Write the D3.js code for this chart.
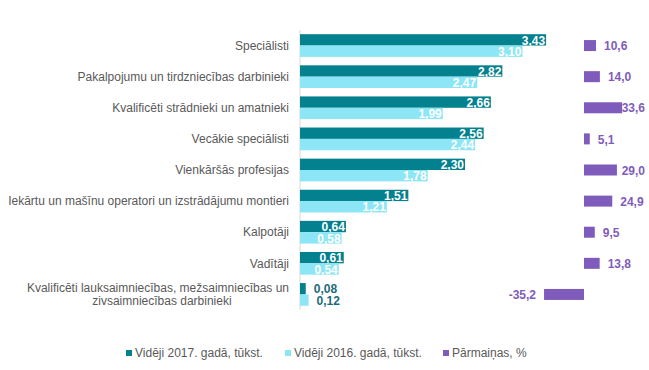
<!DOCTYPE html>
<html>
<head>
<meta charset="utf-8">
<script src="https://cdn.jsdelivr.net/npm/d3@7"></script>
<style>
  body { margin: 0; background: #fff; }
  text { font-family: "Liberation Sans", Arial, sans-serif; }
</style>
</head>
<body>
<div id="chart"></div>
<script>
// data
const categories = [
  "Speciālisti",
  "Pakalpojumu un tirdzniecības darbinieki",
  "Kvalificēti strādnieki un amatnieki",
  "Vecākie speciālisti",
  "Vienkāršās profesijas",
  "Iekārtu un mašīnu operatori un izstrādājumu montieri",
  "Kalpotāji",
  "Vadītāji",
  "Kvalificēti lauksaimniecības, mežsaimniecības un\nzivsaimniecības darbinieki"
];
const avg2017 = [3.43, 2.82, 2.66, 2.56, 2.30, 1.51, 0.64, 0.61, 0.08];
const avg2016 = [3.10, 2.47, 1.99, 2.44, 1.78, 1.21, 0.58, 0.54, 0.12];
const change = [10.6, 14.0, 33.6, 5.1, 29.0, 24.9, 9.5, 13.8, -35.2];
const seriesNames = ["Vidēji 2017. gadā, tūkst.", "Vidēji 2016. gadā, tūkst.", "Pārmaiņas, %"];

const colors = ["#03818f", "#8de6f5", "#7f5cbb"];
const W = 649, H = 370;
const fmt2 = d => d.toFixed(2).replace(".", ",");
const fmt1 = d => d.toFixed(1).replace(".", ",");

const svg = d3.select("#chart").append("svg")
  .attr("width", W).attr("height", H);

let y = d3.scaleBand()
  .domain(d3.range(categories.length))
  .range([30, 310])
  .paddingInner(0.27)
  .paddingOuter(0.135);

let ySub = d3.scaleBand()
  .domain([0, 1])
  .range([0, y.bandwidth()]);

let x = d3.scaleLinear().domain([0, 4]).range([300, 587]);
let xc = d3.scaleLinear().domain([-40, 40]).range([538.6, 629.4]);

// category axis line
svg.append("line")
  .attr("x1", x(0)).attr("x2", x(0))
  .attr("y1", 30).attr("y2", 310)
  .attr("stroke", "#d9d9d9").attr("stroke-width", 1);

// category labels
categories.forEach((c, i) => {
  let lines = c.split("\n");
  let cy = y(i) + y.bandwidth() / 2;
  let lh = 12.5;
  let t = svg.append("text")
    .attr("font-size", 12)
    .attr("fill", "#595959");
  if (lines.length === 1) {
    t.attr("x", 289).attr("y", cy).attr("dy", "0.35em")
      .attr("text-anchor", "end").text(c);
  } else {
    let first = t.append("tspan")
      .attr("x", 289).attr("y", cy - lh / 2).attr("dy", "0.35em")
      .attr("text-anchor", "end").text(lines[0]);
    let w1 = first.node().getComputedTextLength();
    t.append("tspan")
      .attr("x", 289 - w1 / 2 + 4).attr("y", cy + lh / 2).attr("dy", "0.35em")
      .attr("text-anchor", "middle").text(lines[1]);
  }
});

// two year series
const pairs = [avg2017, avg2016];
pairs.forEach((vals, s) => {
  let g = svg.append("g");
  g.selectAll("rect").data(vals).join("rect")
    .attr("x", x(0))
    .attr("y", (d, i) => y(i) + ySub(s))
    .attr("width", d => x(d) - x(0))
    .attr("height", ySub.bandwidth())
    .attr("fill", colors[s]);

  g.selectAll("text").data(vals).join("text")
    .attr("font-size", 12)
    .attr("font-weight", "bold")
    .attr("dy", "0.35em")
    .attr("y", (d, i) => y(i) + ySub(s) + ySub.bandwidth() / 2 + 0.5)
    .attr("x", d => x(d) - x(0) > 30 ? x(d) - 1 : x(d) + 8)
    .attr("text-anchor", d => x(d) - x(0) > 30 ? "end" : "start")
    .attr("fill", d => x(d) - x(0) > 30 ? "#fff" : "#1b6c7a")
    .text(fmt2);
});

// change series
let gc = svg.append("g");
gc.selectAll("rect").data(change).join("rect")
  .attr("x", d => Math.min(xc(0), xc(d)))
  .attr("y", (d, i) => y(i) + y.bandwidth() / 2 - 5.5)
  .attr("width", d => Math.abs(xc(d) - xc(0)))
  .attr("height", 11)
  .attr("fill", colors[2]);

gc.selectAll("text").data(change).join("text")
  .attr("font-size", 12)
  .attr("font-weight", "bold")
  .attr("fill", colors[2])
  .attr("dy", "0.35em")
  .attr("y", (d, i) => y(i) + y.bandwidth() / 2 + 0.5)
  .attr("text-anchor", d => d < 0 ? "end" : "start")
  .text(fmt1)
  .attr("x", function(d) {
    if (d < 0) return xc(d) - 8;
    let w = this.getComputedTextLength();
    return Math.min(xc(d) + 8, 645 - w);
  });

// legend
let legendX = [126, 285, 443];
let legend = svg.append("g");
seriesNames.forEach((n, i) => {
  legend.append("rect")
    .attr("x", legendX[i]).attr("y", 350)
    .attr("width", 6).attr("height", 6)
    .attr("fill", colors[i]);
  legend.append("text")
    .attr("x", legendX[i] + 9).attr("y", 353).attr("dy", "0.35em")
    .attr("font-size", 12).attr("fill", "#595959")
    .text(n);
});
</script>
</body>
</html>
